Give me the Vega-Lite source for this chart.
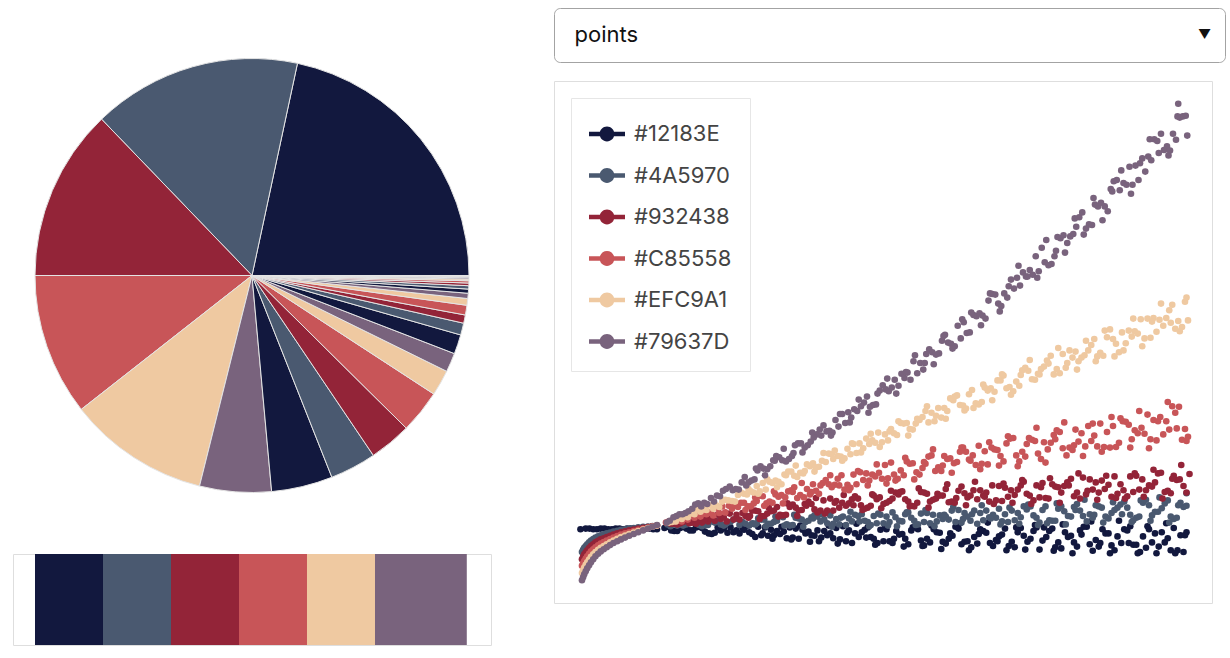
{
  "$schema": "https://vega.github.io/schema/vega-lite/v6.json",
  "background": "white",
  "padding": {"left": 12, "top": 7, "right": 0, "bottom": 0},
  "config": {"view": {"stroke": "#dedede", "strokeWidth": 1}, "font": "Inter"},
  "spacing": 61,
  "resolve": {"scale": {"color": "independent"}, "legend": {"color": "independent"}},
  "hconcat": [
    {
      "spacing": 0,
      "resolve": {"scale": {"color": "independent"}, "legend": {"color": "independent"}},
      "vconcat": [
        {"width": 478, "height": 5, "view": {"stroke": null}, "data": {"values": [{}]}, "mark": {"type": "point", "opacity": 0}, "encoding": {}},
        {
          "width": 478,
          "height": 523,
          "data": {"values": [
            {"i": 1, "value": 77.9, "c": "#12183E"},
            {"i": 2, "value": 56.0, "c": "#4A5970"},
            {"i": 3, "value": 46.1, "c": "#932438"},
            {"i": 4, "value": 38.1, "c": "#C85558"},
            {"i": 5, "value": 37.9, "c": "#EFC9A1"},
            {"i": 6, "value": 19.2, "c": "#79637D"},
            {"i": 7, "value": 16.4, "c": "#12183E"},
            {"i": 8, "value": 12.4, "c": "#4A5970"},
            {"i": 9, "value": 11.3, "c": "#932438"},
            {"i": 10, "value": 11.6, "c": "#C85558"},
            {"i": 11, "value": 6.9, "c": "#EFC9A1"},
            {"i": 12, "value": 5.1, "c": "#79637D"},
            {"i": 13, "value": 5.2, "c": "#12183E"},
            {"i": 14, "value": 3.2, "c": "#4A5970"},
            {"i": 15, "value": 2.2, "c": "#932438"},
            {"i": 16, "value": 2.6, "c": "#C85558"},
            {"i": 17, "value": 1.8, "c": "#EFC9A1"},
            {"i": 18, "value": 1.4, "c": "#79637D"},
            {"i": 19, "value": 1.1, "c": "#12183E"},
            {"i": 20, "value": 0.9, "c": "#4A5970"},
            {"i": 21, "value": 0.7, "c": "#932438"},
            {"i": 22, "value": 0.6, "c": "#C85558"},
            {"i": 23, "value": 0.45, "c": "#EFC9A1"},
            {"i": 24, "value": 0.35, "c": "#79637D"},
            {"i": 25, "value": 0.25, "c": "#12183E"},
            {"i": 26, "value": 0.15, "c": "#4A5970"},
            {"i": 27, "value": 0.1, "c": "#932438"},
            {"i": 28, "value": 0.06, "c": "#C85558"},
            {"i": 29, "value": 0.04, "c": "#EFC9A1"}
          ]},
          "mark": {"type": "arc", "outerRadius": 217, "stroke": "#e4e4e4", "strokeWidth": 1},
          "encoding": {
            "theta": {"field": "value", "type": "quantitative", "stack": true, "scale": {"domain": [0, 360], "nice": false, "range": [1.5708, -4.7124]}},
            "order": {"field": "i", "type": "quantitative"},
            "color": {"field": "c", "type": "nominal", "scale": null}
          }
        },
        {"width": 478, "height": 16, "view": {"stroke": null}, "data": {"values": [{}]}, "mark": {"type": "point", "opacity": 0}, "encoding": {}},
        {
          "width": 478,
          "height": 91,
          "data": {"values": [
            {"c": "#12183E", "a": 0, "b": 1},
            {"c": "#4A5970", "a": 1, "b": 2},
            {"c": "#932438", "a": 2, "b": 3},
            {"c": "#C85558", "a": 3, "b": 4},
            {"c": "#EFC9A1", "a": 4, "b": 5},
            {"c": "#79637D", "a": 5, "b": 6.35}
          ]},
          "mark": {"type": "rect"},
          "encoding": {
            "x": {"field": "a", "type": "quantitative", "scale": {"domain": [-0.3235, 6.706], "nice": false, "zero": false}, "axis": null},
            "x2": {"field": "b"},
            "color": {"field": "c", "type": "nominal", "scale": null}
          }
        }
      ]
    },
    {
      "spacing": 17,
      "resolve": {"scale": {"color": "independent"}, "legend": {"color": "independent"}},
      "vconcat": [
        {
          "width": 671,
          "height": 54,
          "view": {"stroke": "#a3a3a3", "cornerRadius": 6, "fill": "white"},
          "encoding": {
            "x": {"field": "label", "type": "nominal", "scale": {"type": "point", "domain": ["points", "▼"], "padding": 0.0325}, "axis": null}
          },
          "layer": [
            {
              "data": {"values": [{"label": "points"}]},
              "mark": {"type": "text", "align": "left", "baseline": "middle", "fontSize": 22, "font": "Inter", "color": "#111111"},
              "encoding": {"text": {"field": "label"}}
            },
            {
              "data": {"values": [{"label": "▼"}]},
              "mark": {"type": "text", "align": "center", "baseline": "middle", "fontSize": 13, "color": "#111111"},
              "encoding": {"text": {"field": "label"}}
            }
          ]
        },
        {
          "width": 658,
          "height": 522,
          "data": {"values": [
            {"s":"#12183E","x":-0.02,"y":0.93},{"s":"#12183E","x":0.05,"y":0.94},{"s":"#12183E","x":0.1,"y":0.94},{"s":"#12183E","x":0.15,"y":0.93},{"s":"#12183E","x":0.2,"y":0.93},{"s":"#12183E","x":0.25,"y":0.94},{"s":"#12183E","x":0.3,"y":0.94},{"s":"#12183E","x":0.35,"y":0.93},{"s":"#12183E","x":0.4,"y":0.93},{"s":"#12183E","x":0.45,"y":0.94},{"s":"#12183E","x":0.5,"y":0.94},{"s":"#12183E","x":0.55,"y":0.93},{"s":"#12183E","x":0.6,"y":0.94},{"s":"#12183E","x":0.65,"y":0.94},{"s":"#12183E","x":0.7,"y":0.93},{"s":"#12183E","x":0.75,"y":0.93},{"s":"#12183E","x":0.8,"y":0.95},{"s":"#12183E","x":0.85,"y":0.94},{"s":"#12183E","x":0.9,"y":0.94},{"s":"#12183E","x":0.95,"y":0.93},{"s":"#12183E","x":1.0,"y":0.93},
            {"s":"#12183E","x":1.1,"y":0.95},{"s":"#12183E","x":1.23,"y":0.90},{"s":"#12183E","x":1.35,"y":0.97},{"s":"#12183E","x":1.48,"y":0.91},{"s":"#12183E","x":1.6,"y":0.95},{"s":"#12183E","x":1.73,"y":0.85},{"s":"#12183E","x":1.85,"y":0.91},{"s":"#12183E","x":1.98,"y":0.96},
            {"s":"#12183E","x":2.1,"y":0.86},{"s":"#12183E","x":2.23,"y":0.88},{"s":"#12183E","x":2.35,"y":0.97},{"s":"#12183E","x":2.48,"y":0.82},{"s":"#12183E","x":2.6,"y":0.90},{"s":"#12183E","x":2.73,"y":0.78},{"s":"#12183E","x":2.85,"y":0.94},{"s":"#12183E","x":2.98,"y":0.86},
            {"s":"#12183E","x":3.1,"y":0.82},{"s":"#12183E","x":3.23,"y":0.90},{"s":"#12183E","x":3.35,"y":0.78},{"s":"#12183E","x":3.48,"y":0.98},{"s":"#12183E","x":3.6,"y":0.70},{"s":"#12183E","x":3.73,"y":0.88},{"s":"#12183E","x":3.85,"y":0.80},{"s":"#12183E","x":3.98,"y":0.92},
            {"s":"#12183E","x":4.1,"y":0.73},{"s":"#12183E","x":4.23,"y":0.84},{"s":"#12183E","x":4.35,"y":0.68},{"s":"#12183E","x":4.48,"y":0.93},{"s":"#12183E","x":4.6,"y":0.77},{"s":"#12183E","x":4.73,"y":0.88},{"s":"#12183E","x":4.85,"y":0.69},{"s":"#12183E","x":4.98,"y":0.97},
            {"s":"#12183E","x":5.1,"y":0.72},{"s":"#12183E","x":5.23,"y":0.80},{"s":"#12183E","x":5.35,"y":0.90},{"s":"#12183E","x":5.48,"y":0.65},{"s":"#12183E","x":5.6,"y":0.84},{"s":"#12183E","x":5.73,"y":0.72},{"s":"#12183E","x":5.85,"y":0.95},{"s":"#12183E","x":5.98,"y":0.77},
            {"s":"#12183E","x":6.1,"y":0.59},{"s":"#12183E","x":6.23,"y":0.90},{"s":"#12183E","x":6.35,"y":0.71},{"s":"#12183E","x":6.48,"y":0.80},{"s":"#12183E","x":6.6,"y":0.64},{"s":"#12183E","x":6.73,"y":0.97},{"s":"#12183E","x":6.85,"y":0.75},{"s":"#12183E","x":6.98,"y":0.86},
            {"s":"#12183E","x":7.1,"y":0.58},{"s":"#12183E","x":7.23,"y":0.93},{"s":"#12183E","x":7.35,"y":0.67},{"s":"#12183E","x":7.48,"y":0.81},{"s":"#12183E","x":7.6,"y":0.71},{"s":"#12183E","x":7.73,"y":0.88},{"s":"#12183E","x":7.85,"y":0.58},{"s":"#12183E","x":7.98,"y":0.83},
            {"s":"#12183E","x":1.14,"y":0.97},{"s":"#12183E","x":1.27,"y":0.90},{"s":"#12183E","x":1.39,"y":0.94},{"s":"#12183E","x":1.52,"y":0.96},{"s":"#12183E","x":1.64,"y":0.89},{"s":"#12183E","x":1.77,"y":0.87},{"s":"#12183E","x":1.89,"y":0.94},{"s":"#12183E","x":2.02,"y":0.88},
            {"s":"#12183E","x":2.14,"y":0.95},{"s":"#12183E","x":2.27,"y":0.85},{"s":"#12183E","x":2.39,"y":0.83},{"s":"#12183E","x":2.52,"y":0.92},{"s":"#12183E","x":2.64,"y":0.85},{"s":"#12183E","x":2.77,"y":0.96},{"s":"#12183E","x":2.89,"y":0.77},{"s":"#12183E","x":3.02,"y":0.89},
            {"s":"#12183E","x":3.14,"y":0.91},{"s":"#12183E","x":3.27,"y":0.83},{"s":"#12183E","x":3.39,"y":0.95},{"s":"#12183E","x":3.52,"y":0.73},{"s":"#12183E","x":3.64,"y":0.86},{"s":"#12183E","x":3.77,"y":0.92},{"s":"#12183E","x":3.89,"y":0.77},{"s":"#12183E","x":4.02,"y":0.73},
            {"s":"#12183E","x":4.14,"y":0.70},{"s":"#12183E","x":4.27,"y":0.85},{"s":"#12183E","x":4.39,"y":0.91},{"s":"#12183E","x":4.52,"y":0.74},{"s":"#12183E","x":4.64,"y":0.71},{"s":"#12183E","x":4.77,"y":0.87},{"s":"#12183E","x":4.89,"y":0.77},{"s":"#12183E","x":5.02,"y":0.94},
            {"s":"#12183E","x":5.14,"y":0.73},{"s":"#12183E","x":5.27,"y":0.69},{"s":"#12183E","x":5.39,"y":0.87},{"s":"#12183E","x":5.52,"y":0.75},{"s":"#12183E","x":5.64,"y":0.94},{"s":"#12183E","x":5.77,"y":0.63},{"s":"#12183E","x":5.89,"y":0.82},{"s":"#12183E","x":6.02,"y":0.90},
            {"s":"#12183E","x":6.14,"y":0.74},{"s":"#12183E","x":6.27,"y":0.94},{"s":"#12183E","x":6.39,"y":0.61},{"s":"#12183E","x":6.52,"y":0.82},{"s":"#12183E","x":6.64,"y":0.91},{"s":"#12183E","x":6.77,"y":0.68},{"s":"#12183E","x":6.89,"y":0.64},{"s":"#12183E","x":7.02,"y":0.86},
            {"s":"#12183E","x":7.14,"y":0.81},{"s":"#12183E","x":7.27,"y":0.91},{"s":"#12183E","x":7.39,"y":0.67},{"s":"#12183E","x":7.52,"y":0.62},{"s":"#12183E","x":7.64,"y":0.86},{"s":"#12183E","x":7.77,"y":0.71},{"s":"#12183E","x":7.89,"y":0.95},{"s":"#12183E","x":8.02,"y":0.55},
            {"s":"#12183E","x":1.19,"y":0.91},{"s":"#12183E","x":1.31,"y":0.95},{"s":"#12183E","x":1.44,"y":0.91},{"s":"#12183E","x":1.56,"y":0.97},{"s":"#12183E","x":1.69,"y":0.86},{"s":"#12183E","x":1.81,"y":0.96},{"s":"#12183E","x":1.94,"y":0.87},{"s":"#12183E","x":2.06,"y":0.91},
            {"s":"#12183E","x":2.19,"y":0.98},{"s":"#12183E","x":2.31,"y":0.80},{"s":"#12183E","x":2.44,"y":0.96},{"s":"#12183E","x":2.56,"y":0.83},{"s":"#12183E","x":2.69,"y":0.89},{"s":"#12183E","x":2.81,"y":0.79},{"s":"#12183E","x":2.94,"y":0.92},{"s":"#12183E","x":3.06,"y":0.83},
            {"s":"#12183E","x":3.19,"y":0.79},{"s":"#12183E","x":3.31,"y":0.86},{"s":"#12183E","x":3.44,"y":0.76},{"s":"#12183E","x":3.56,"y":0.91},{"s":"#12183E","x":3.69,"y":0.80},{"s":"#12183E","x":3.81,"y":0.96},{"s":"#12183E","x":3.94,"y":0.70},{"s":"#12183E","x":4.06,"y":0.93},
            {"s":"#12183E","x":4.19,"y":0.90},{"s":"#12183E","x":4.31,"y":0.77},{"s":"#12183E","x":4.44,"y":0.96},{"s":"#12183E","x":4.56,"y":0.66},{"s":"#12183E","x":4.69,"y":0.93},{"s":"#12183E","x":4.81,"y":0.72},{"s":"#12183E","x":4.94,"y":0.82},{"s":"#12183E","x":5.06,"y":0.68},
            {"s":"#12183E","x":5.19,"y":0.63},{"s":"#12183E","x":5.31,"y":0.93},{"s":"#12183E","x":5.44,"y":0.70},{"s":"#12183E","x":5.56,"y":0.81},{"s":"#12183E","x":5.69,"y":0.65},{"s":"#12183E","x":5.81,"y":0.88},{"s":"#12183E","x":5.94,"y":0.72},{"s":"#12183E","x":6.06,"y":0.96},
            {"s":"#12183E","x":6.19,"y":0.80},{"s":"#12183E","x":6.31,"y":0.63},{"s":"#12183E","x":6.44,"y":0.88},{"s":"#12183E","x":6.56,"y":0.71},{"s":"#12183E","x":6.69,"y":0.97},{"s":"#12183E","x":6.81,"y":0.57},{"s":"#12183E","x":6.94,"y":0.93},{"s":"#12183E","x":7.06,"y":0.66},
            {"s":"#12183E","x":7.19,"y":0.70},{"s":"#12183E","x":7.31,"y":0.98},{"s":"#12183E","x":7.44,"y":0.55},{"s":"#12183E","x":7.56,"y":0.93},{"s":"#12183E","x":7.69,"y":0.64},{"s":"#12183E","x":7.81,"y":0.78},{"s":"#12183E","x":7.94,"y":0.58},{"s":"#12183E","x":8.06,"y":0.88},
            {"s":"#12183E","x":2.16,"y":0.92},{"s":"#12183E","x":2.29,"y":1.02},{"s":"#12183E","x":2.41,"y":0.86},{"s":"#12183E","x":2.54,"y":0.77},{"s":"#12183E","x":2.66,"y":0.97},{"s":"#12183E","x":2.79,"y":0.76},{"s":"#12183E","x":2.91,"y":0.99},{"s":"#12183E","x":3.04,"y":0.72},
            {"s":"#12183E","x":3.16,"y":0.73},{"s":"#12183E","x":3.29,"y":0.99},{"s":"#12183E","x":3.41,"y":0.69},{"s":"#12183E","x":3.54,"y":0.88},{"s":"#12183E","x":3.66,"y":1.02},{"s":"#12183E","x":3.79,"y":0.79},{"s":"#12183E","x":3.91,"y":0.67},{"s":"#12183E","x":4.04,"y":0.96},
            {"s":"#12183E","x":4.16,"y":0.77},{"s":"#12183E","x":4.29,"y":0.64},{"s":"#12183E","x":4.41,"y":0.96},{"s":"#12183E","x":4.54,"y":0.65},{"s":"#12183E","x":4.66,"y":0.99},{"s":"#12183E","x":4.79,"y":0.60},{"s":"#12183E","x":4.91,"y":0.86},{"s":"#12183E","x":5.04,"y":1.03},
            {"s":"#12183E","x":5.16,"y":0.58},{"s":"#12183E","x":5.29,"y":0.85},{"s":"#12183E","x":5.41,"y":1.04},{"s":"#12183E","x":5.54,"y":0.73},{"s":"#12183E","x":5.66,"y":0.58},{"s":"#12183E","x":5.79,"y":0.96},{"s":"#12183E","x":5.91,"y":0.59},{"s":"#12183E","x":6.04,"y":1.0},
            {"s":"#12183E","x":6.16,"y":0.96},{"s":"#12183E","x":6.29,"y":0.57},{"s":"#12183E","x":6.41,"y":1.01},{"s":"#12183E","x":6.54,"y":0.53},{"s":"#12183E","x":6.66,"y":0.84},{"s":"#12183E","x":6.79,"y":1.06},{"s":"#12183E","x":6.91,"y":0.70},{"s":"#12183E","x":7.04,"y":0.53},
            {"s":"#12183E","x":7.16,"y":1.07},{"s":"#12183E","x":7.29,"y":0.70},{"s":"#12183E","x":7.41,"y":0.53},{"s":"#12183E","x":7.54,"y":0.98},{"s":"#12183E","x":7.66,"y":0.53},{"s":"#12183E","x":7.79,"y":1.03},{"s":"#12183E","x":7.91,"y":0.53},{"s":"#12183E","x":8.04,"y":0.83},

            {"s":"#4A5970","x":0,"y":0.55},{"s":"#4A5970","x":0.015,"y":0.585},{"s":"#4A5970","x":0.03,"y":0.62},{"s":"#4A5970","x":0.05,"y":0.65},{"s":"#4A5970","x":0.07,"y":0.68},{"s":"#4A5970","x":0.095,"y":0.71},{"s":"#4A5970","x":0.12,"y":0.74},{"s":"#4A5970","x":0.15,"y":0.765},{"s":"#4A5970","x":0.18,"y":0.79},{"s":"#4A5970","x":0.215,"y":0.81},{"s":"#4A5970","x":0.25,"y":0.83},{"s":"#4A5970","x":0.29,"y":0.845},{"s":"#4A5970","x":0.33,"y":0.86},{"s":"#4A5970","x":0.375,"y":0.875},{"s":"#4A5970","x":0.42,"y":0.89},{"s":"#4A5970","x":0.47,"y":0.905},{"s":"#4A5970","x":0.52,"y":0.92},{"s":"#4A5970","x":0.575,"y":0.93},{"s":"#4A5970","x":0.63,"y":0.94},{"s":"#4A5970","x":0.69,"y":0.95},{"s":"#4A5970","x":0.75,"y":0.96},{"s":"#4A5970","x":0.815,"y":0.968},{"s":"#4A5970","x":0.88,"y":0.975},{"s":"#4A5970","x":0.94,"y":0.983},{"s":"#4A5970","x":1.0,"y":0.99},
            {"s":"#4A5970","x":1.14,"y":1.01},{"s":"#4A5970","x":1.27,"y":0.99},{"s":"#4A5970","x":1.39,"y":1.01},{"s":"#4A5970","x":1.52,"y":1.05},{"s":"#4A5970","x":1.64,"y":1.00},{"s":"#4A5970","x":1.77,"y":1.04},{"s":"#4A5970","x":1.89,"y":0.99},{"s":"#4A5970","x":2.02,"y":1.09},
            {"s":"#4A5970","x":2.14,"y":1.05},{"s":"#4A5970","x":2.27,"y":1.03},{"s":"#4A5970","x":2.39,"y":1.09},{"s":"#4A5970","x":2.52,"y":1.02},{"s":"#4A5970","x":2.64,"y":1.15},{"s":"#4A5970","x":2.77,"y":0.99},{"s":"#4A5970","x":2.89,"y":1.11},{"s":"#4A5970","x":3.02,"y":1.07},
            {"s":"#4A5970","x":3.14,"y":1.14},{"s":"#4A5970","x":3.27,"y":1.03},{"s":"#4A5970","x":3.39,"y":1.10},{"s":"#4A5970","x":3.52,"y":1.00},{"s":"#4A5970","x":3.64,"y":1.17},{"s":"#4A5970","x":3.77,"y":1.07},{"s":"#4A5970","x":3.89,"y":1.15},{"s":"#4A5970","x":4.02,"y":1.03},
            {"s":"#4A5970","x":4.14,"y":1.21},{"s":"#4A5970","x":4.27,"y":1.06},{"s":"#4A5970","x":4.39,"y":1.12},{"s":"#4A5970","x":4.52,"y":1.19},{"s":"#4A5970","x":4.64,"y":1.03},{"s":"#4A5970","x":4.77,"y":1.16},{"s":"#4A5970","x":4.89,"y":1.09},{"s":"#4A5970","x":5.02,"y":1.25},
            {"s":"#4A5970","x":5.14,"y":1.14},{"s":"#4A5970","x":5.27,"y":1.02},{"s":"#4A5970","x":5.39,"y":1.24},{"s":"#4A5970","x":5.52,"y":1.12},{"s":"#4A5970","x":5.64,"y":1.18},{"s":"#4A5970","x":5.77,"y":1.08},{"s":"#4A5970","x":5.89,"y":1.31},{"s":"#4A5970","x":6.02,"y":1.16},
            {"s":"#4A5970","x":6.14,"y":1.25},{"s":"#4A5970","x":6.27,"y":1.07},{"s":"#4A5970","x":6.39,"y":1.31},{"s":"#4A5970","x":6.52,"y":1.14},{"s":"#4A5970","x":6.64,"y":1.24},{"s":"#4A5970","x":6.77,"y":1.18},{"s":"#4A5970","x":6.89,"y":1.31},{"s":"#4A5970","x":7.02,"y":1.11},
            {"s":"#4A5970","x":7.14,"y":1.29},{"s":"#4A5970","x":7.27,"y":1.29},{"s":"#4A5970","x":7.39,"y":1.12},{"s":"#4A5970","x":7.52,"y":1.42},{"s":"#4A5970","x":7.64,"y":1.22},{"s":"#4A5970","x":7.77,"y":1.36},{"s":"#4A5970","x":7.89,"y":1.10},{"s":"#4A5970","x":8.02,"y":1.30},
            {"s":"#4A5970","x":1.18,"y":0.98},{"s":"#4A5970","x":1.31,"y":1.01},{"s":"#4A5970","x":1.43,"y":1.03},{"s":"#4A5970","x":1.56,"y":1.00},{"s":"#4A5970","x":1.68,"y":1.00},{"s":"#4A5970","x":1.81,"y":1.06},{"s":"#4A5970","x":1.93,"y":1.03},{"s":"#4A5970","x":2.06,"y":1.10},
            {"s":"#4A5970","x":2.18,"y":1.02},{"s":"#4A5970","x":2.31,"y":1.01},{"s":"#4A5970","x":2.43,"y":1.09},{"s":"#4A5970","x":2.56,"y":1.05},{"s":"#4A5970","x":2.68,"y":1.13},{"s":"#4A5970","x":2.81,"y":1.00},{"s":"#4A5970","x":2.93,"y":1.09},{"s":"#4A5970","x":3.06,"y":1.13},
            {"s":"#4A5970","x":3.18,"y":1.06},{"s":"#4A5970","x":3.31,"y":1.16},{"s":"#4A5970","x":3.43,"y":1.01},{"s":"#4A5970","x":3.56,"y":1.11},{"s":"#4A5970","x":3.68,"y":1.15},{"s":"#4A5970","x":3.81,"y":1.05},{"s":"#4A5970","x":3.93,"y":1.03},{"s":"#4A5970","x":4.06,"y":1.14},
            {"s":"#4A5970","x":4.18,"y":1.13},{"s":"#4A5970","x":4.31,"y":1.18},{"s":"#4A5970","x":4.43,"y":1.07},{"s":"#4A5970","x":4.56,"y":1.05},{"s":"#4A5970","x":4.68,"y":1.17},{"s":"#4A5970","x":4.81,"y":1.10},{"s":"#4A5970","x":4.93,"y":1.24},{"s":"#4A5970","x":5.06,"y":1.04},
            {"s":"#4A5970","x":5.18,"y":1.07},{"s":"#4A5970","x":5.31,"y":1.20},{"s":"#4A5970","x":5.43,"y":1.13},{"s":"#4A5970","x":5.56,"y":1.27},{"s":"#4A5970","x":5.68,"y":1.05},{"s":"#4A5970","x":5.81,"y":1.20},{"s":"#4A5970","x":5.93,"y":1.26},{"s":"#4A5970","x":6.06,"y":1.12},
            {"s":"#4A5970","x":6.18,"y":1.31},{"s":"#4A5970","x":6.31,"y":1.07},{"s":"#4A5970","x":6.43,"y":1.23},{"s":"#4A5970","x":6.56,"y":1.30},{"s":"#4A5970","x":6.68,"y":1.15},{"s":"#4A5970","x":6.81,"y":1.12},{"s":"#4A5970","x":6.93,"y":1.29},{"s":"#4A5970","x":7.06,"y":1.20},
            {"s":"#4A5970","x":7.18,"y":1.34},{"s":"#4A5970","x":7.31,"y":1.17},{"s":"#4A5970","x":7.43,"y":1.14},{"s":"#4A5970","x":7.56,"y":1.33},{"s":"#4A5970","x":7.68,"y":1.22},{"s":"#4A5970","x":7.81,"y":1.41},{"s":"#4A5970","x":7.93,"y":1.12},{"s":"#4A5970","x":8.06,"y":1.32},
            {"s":"#4A5970","x":1.23,"y":1.01},{"s":"#4A5970","x":1.35,"y":0.99},{"s":"#4A5970","x":1.48,"y":1.05},{"s":"#4A5970","x":1.6,"y":0.98},{"s":"#4A5970","x":1.73,"y":1.06},{"s":"#4A5970","x":1.85,"y":1.01},{"s":"#4A5970","x":1.98,"y":1.05},{"s":"#4A5970","x":2.1,"y":1.00},
            {"s":"#4A5970","x":2.23,"y":0.99},{"s":"#4A5970","x":2.35,"y":1.11},{"s":"#4A5970","x":2.48,"y":1.02},{"s":"#4A5970","x":2.6,"y":1.07},{"s":"#4A5970","x":2.73,"y":1.01},{"s":"#4A5970","x":2.85,"y":1.12},{"s":"#4A5970","x":2.98,"y":1.05},{"s":"#4A5970","x":3.1,"y":1.16},
            {"s":"#4A5970","x":3.23,"y":1.09},{"s":"#4A5970","x":3.35,"y":1.02},{"s":"#4A5970","x":3.48,"y":1.14},{"s":"#4A5970","x":3.6,"y":1.06},{"s":"#4A5970","x":3.73,"y":1.18},{"s":"#4A5970","x":3.85,"y":1.00},{"s":"#4A5970","x":3.98,"y":1.17},{"s":"#4A5970","x":4.1,"y":1.05},
            {"s":"#4A5970","x":4.23,"y":1.07},{"s":"#4A5970","x":4.35,"y":1.21},{"s":"#4A5970","x":4.48,"y":1.01},{"s":"#4A5970","x":4.6,"y":1.20},{"s":"#4A5970","x":4.73,"y":1.06},{"s":"#4A5970","x":4.85,"y":1.14},{"s":"#4A5970","x":4.98,"y":1.05},{"s":"#4A5970","x":5.1,"y":1.20},
            {"s":"#4A5970","x":5.23,"y":1.24},{"s":"#4A5970","x":5.35,"y":1.08},{"s":"#4A5970","x":5.48,"y":1.17},{"s":"#4A5970","x":5.6,"y":1.06},{"s":"#4A5970","x":5.73,"y":1.24},{"s":"#4A5970","x":5.85,"y":1.13},{"s":"#4A5970","x":5.98,"y":1.31},{"s":"#4A5970","x":6.1,"y":1.04},
            {"s":"#4A5970","x":6.23,"y":1.08},{"s":"#4A5970","x":6.35,"y":1.27},{"s":"#4A5970","x":6.48,"y":1.15},{"s":"#4A5970","x":6.6,"y":1.35},{"s":"#4A5970","x":6.73,"y":1.06},{"s":"#4A5970","x":6.85,"y":1.33},{"s":"#4A5970","x":6.98,"y":1.14},{"s":"#4A5970","x":7.1,"y":1.25},
            {"s":"#4A5970","x":7.23,"y":1.39},{"s":"#4A5970","x":7.35,"y":1.08},{"s":"#4A5970","x":7.48,"y":1.37},{"s":"#4A5970","x":7.6,"y":1.16},{"s":"#4A5970","x":7.73,"y":1.28},{"s":"#4A5970","x":7.85,"y":1.14},{"s":"#4A5970","x":7.98,"y":1.37},
            {"s":"#4A5970","x":2.2,"y":1.15},{"s":"#4A5970","x":2.33,"y":1.03},{"s":"#4A5970","x":2.45,"y":0.98},{"s":"#4A5970","x":2.58,"y":1.14},{"s":"#4A5970","x":2.7,"y":0.99},{"s":"#4A5970","x":2.83,"y":1.17},{"s":"#4A5970","x":2.95,"y":0.97},{"s":"#4A5970","x":3.08,"y":1.11},
            {"s":"#4A5970","x":3.2,"y":1.18},{"s":"#4A5970","x":3.33,"y":0.97},{"s":"#4A5970","x":3.45,"y":1.12},{"s":"#4A5970","x":3.58,"y":1.22},{"s":"#4A5970","x":3.7,"y":1.06},{"s":"#4A5970","x":3.83,"y":0.98},{"s":"#4A5970","x":3.95,"y":1.19},{"s":"#4A5970","x":4.08,"y":0.99},
            {"s":"#4A5970","x":4.2,"y":0.98},{"s":"#4A5970","x":4.33,"y":1.21},{"s":"#4A5970","x":4.45,"y":1.00},{"s":"#4A5970","x":4.58,"y":1.25},{"s":"#4A5970","x":4.7,"y":0.98},{"s":"#4A5970","x":4.83,"y":1.17},{"s":"#4A5970","x":4.95,"y":1.30},{"s":"#4A5970","x":5.08,"y":1.10},
            {"s":"#4A5970","x":5.2,"y":1.18},{"s":"#4A5970","x":5.33,"y":1.33},{"s":"#4A5970","x":5.45,"y":1.11},{"s":"#4A5970","x":5.58,"y":1.01},{"s":"#4A5970","x":5.7,"y":1.29},{"s":"#4A5970","x":5.83,"y":1.02},{"s":"#4A5970","x":5.95,"y":1.34},{"s":"#4A5970","x":6.08,"y":1.00},
            {"s":"#4A5970","x":6.2,"y":1.03},{"s":"#4A5970","x":6.33,"y":1.36},{"s":"#4A5970","x":6.45,"y":1.01},{"s":"#4A5970","x":6.58,"y":1.25},{"s":"#4A5970","x":6.7,"y":1.42},{"s":"#4A5970","x":6.83,"y":1.17},{"s":"#4A5970","x":6.95,"y":1.04},{"s":"#4A5970","x":7.08,"y":1.38},
            {"s":"#4A5970","x":7.2,"y":1.18},{"s":"#4A5970","x":7.33,"y":1.05},{"s":"#4A5970","x":7.45,"y":1.41},{"s":"#4A5970","x":7.58,"y":1.07},{"s":"#4A5970","x":7.7,"y":1.46},{"s":"#4A5970","x":7.83,"y":1.04},{"s":"#4A5970","x":7.95,"y":1.33},{"s":"#4A5970","x":8.06,"y":1.53},

            {"s":"#932438","x":0,"y":0.43},{"s":"#932438","x":0.015,"y":0.47},{"s":"#932438","x":0.03,"y":0.51},{"s":"#932438","x":0.05,"y":0.545},{"s":"#932438","x":0.07,"y":0.58},{"s":"#932438","x":0.095,"y":0.615},{"s":"#932438","x":0.12,"y":0.65},{"s":"#932438","x":0.15,"y":0.68},{"s":"#932438","x":0.18,"y":0.71},{"s":"#932438","x":0.215,"y":0.735},{"s":"#932438","x":0.25,"y":0.76},{"s":"#932438","x":0.29,"y":0.78},{"s":"#932438","x":0.33,"y":0.80},{"s":"#932438","x":0.375,"y":0.82},{"s":"#932438","x":0.42,"y":0.84},{"s":"#932438","x":0.47,"y":0.86},{"s":"#932438","x":0.52,"y":0.88},{"s":"#932438","x":0.575,"y":0.895},{"s":"#932438","x":0.63,"y":0.91},{"s":"#932438","x":0.69,"y":0.925},{"s":"#932438","x":0.75,"y":0.94},{"s":"#932438","x":0.815,"y":0.953},{"s":"#932438","x":0.88,"y":0.965},{"s":"#932438","x":0.94,"y":0.978},{"s":"#932438","x":1.0,"y":0.99},
            {"s":"#932438","x":1.18,"y":1.02},{"s":"#932438","x":1.31,"y":1.03},{"s":"#932438","x":1.43,"y":1.03},{"s":"#932438","x":1.56,"y":1.09},{"s":"#932438","x":1.68,"y":1.06},{"s":"#932438","x":1.81,"y":1.17},{"s":"#932438","x":1.93,"y":1.06},{"s":"#932438","x":2.06,"y":1.17},
            {"s":"#932438","x":2.18,"y":1.15},{"s":"#932438","x":2.31,"y":1.24},{"s":"#932438","x":2.43,"y":1.15},{"s":"#932438","x":2.56,"y":1.24},{"s":"#932438","x":2.68,"y":1.16},{"s":"#932438","x":2.81,"y":1.34},{"s":"#932438","x":2.93,"y":1.25},{"s":"#932438","x":3.06,"y":1.35},
            {"s":"#932438","x":3.18,"y":1.24},{"s":"#932438","x":3.31,"y":1.44},{"s":"#932438","x":3.43,"y":1.29},{"s":"#932438","x":3.56,"y":1.36},{"s":"#932438","x":3.68,"y":1.44},{"s":"#932438","x":3.81,"y":1.29},{"s":"#932438","x":3.93,"y":1.43},{"s":"#932438","x":4.06,"y":1.37},
            {"s":"#932438","x":4.18,"y":1.54},{"s":"#932438","x":4.31,"y":1.43},{"s":"#932438","x":4.43,"y":1.31},{"s":"#932438","x":4.56,"y":1.54},{"s":"#932438","x":4.68,"y":1.42},{"s":"#932438","x":4.81,"y":1.49},{"s":"#932438","x":4.93,"y":1.39},{"s":"#932438","x":5.06,"y":1.64},
            {"s":"#932438","x":5.18,"y":1.49},{"s":"#932438","x":5.31,"y":1.58},{"s":"#932438","x":5.43,"y":1.39},{"s":"#932438","x":5.56,"y":1.65},{"s":"#932438","x":5.68,"y":1.47},{"s":"#932438","x":5.81,"y":1.59},{"s":"#932438","x":5.93,"y":1.52},{"s":"#932438","x":6.06,"y":1.66},
            {"s":"#932438","x":6.18,"y":1.45},{"s":"#932438","x":6.31,"y":1.64},{"s":"#932438","x":6.43,"y":1.65},{"s":"#932438","x":6.56,"y":1.48},{"s":"#932438","x":6.68,"y":1.79},{"s":"#932438","x":6.81,"y":1.59},{"s":"#932438","x":6.93,"y":1.74},{"s":"#932438","x":7.06,"y":1.47},
            {"s":"#932438","x":7.18,"y":1.68},{"s":"#932438","x":7.31,"y":1.81},{"s":"#932438","x":7.43,"y":1.59},{"s":"#932438","x":7.56,"y":1.66},{"s":"#932438","x":7.68,"y":1.86},{"s":"#932438","x":7.81,"y":1.57},{"s":"#932438","x":7.93,"y":1.75},{"s":"#932438","x":8.06,"y":1.54},
            {"s":"#932438","x":1.22,"y":1.02},{"s":"#932438","x":1.35,"y":1.05},{"s":"#932438","x":1.47,"y":1.04},{"s":"#932438","x":1.6,"y":1.04},{"s":"#932438","x":1.72,"y":1.11},{"s":"#932438","x":1.85,"y":1.10},{"s":"#932438","x":1.97,"y":1.19},{"s":"#932438","x":2.1,"y":1.09},
            {"s":"#932438","x":2.22,"y":1.12},{"s":"#932438","x":2.35,"y":1.23},{"s":"#932438","x":2.47,"y":1.19},{"s":"#932438","x":2.6,"y":1.30},{"s":"#932438","x":2.72,"y":1.17},{"s":"#932438","x":2.85,"y":1.29},{"s":"#932438","x":2.97,"y":1.35},{"s":"#932438","x":3.1,"y":1.26},
            {"s":"#932438","x":3.22,"y":1.41},{"s":"#932438","x":3.35,"y":1.24},{"s":"#932438","x":3.47,"y":1.37},{"s":"#932438","x":3.6,"y":1.43},{"s":"#932438","x":3.72,"y":1.33},{"s":"#932438","x":3.85,"y":1.32},{"s":"#932438","x":3.97,"y":1.46},{"s":"#932438","x":4.1,"y":1.40},
            {"s":"#932438","x":4.22,"y":1.51},{"s":"#932438","x":4.35,"y":1.39},{"s":"#932438","x":4.47,"y":1.37},{"s":"#932438","x":4.6,"y":1.52},{"s":"#932438","x":4.72,"y":1.44},{"s":"#932438","x":4.85,"y":1.60},{"s":"#932438","x":4.97,"y":1.37},{"s":"#932438","x":5.1,"y":1.53},
            {"s":"#932438","x":5.22,"y":1.58},{"s":"#932438","x":5.35,"y":1.49},{"s":"#932438","x":5.47,"y":1.66},{"s":"#932438","x":5.6,"y":1.40},{"s":"#932438","x":5.72,"y":1.58},{"s":"#932438","x":5.85,"y":1.66},{"s":"#932438","x":5.97,"y":1.49},{"s":"#932438","x":6.1,"y":1.46},
            {"s":"#932438","x":6.22,"y":1.44},{"s":"#932438","x":6.35,"y":1.63},{"s":"#932438","x":6.47,"y":1.71},{"s":"#932438","x":6.6,"y":1.54},{"s":"#932438","x":6.72,"y":1.51},{"s":"#932438","x":6.85,"y":1.71},{"s":"#932438","x":6.97,"y":1.60},{"s":"#932438","x":7.1,"y":1.81},
            {"s":"#932438","x":7.22,"y":1.58},{"s":"#932438","x":7.35,"y":1.55},{"s":"#932438","x":7.47,"y":1.76},{"s":"#932438","x":7.6,"y":1.64},{"s":"#932438","x":7.72,"y":1.87},{"s":"#932438","x":7.85,"y":1.53},{"s":"#932438","x":7.97,"y":1.76},{"s":"#932438","x":8.1,"y":1.85},
            {"s":"#932438","x":1.27,"y":1.01},{"s":"#932438","x":1.39,"y":1.07},{"s":"#932438","x":1.52,"y":1.02},{"s":"#932438","x":1.64,"y":1.11},{"s":"#932438","x":1.77,"y":1.07},{"s":"#932438","x":1.89,"y":1.13},{"s":"#932438","x":2.02,"y":1.09},{"s":"#932438","x":2.14,"y":1.20},
            {"s":"#932438","x":2.27,"y":1.24},{"s":"#932438","x":2.39,"y":1.15},{"s":"#932438","x":2.52,"y":1.23},{"s":"#932438","x":2.64,"y":1.17},{"s":"#932438","x":2.77,"y":1.30},{"s":"#932438","x":2.89,"y":1.24},{"s":"#932438","x":3.02,"y":1.39},{"s":"#932438","x":3.14,"y":1.21},
            {"s":"#932438","x":3.27,"y":1.24},{"s":"#932438","x":3.39,"y":1.40},{"s":"#932438","x":3.52,"y":1.32},{"s":"#932438","x":3.64,"y":1.48},{"s":"#932438","x":3.77,"y":1.27},{"s":"#932438","x":3.89,"y":1.49},{"s":"#932438","x":4.02,"y":1.35},{"s":"#932438","x":4.14,"y":1.44},
            {"s":"#932438","x":4.27,"y":1.56},{"s":"#932438","x":4.39,"y":1.32},{"s":"#932438","x":4.52,"y":1.55},{"s":"#932438","x":4.64,"y":1.39},{"s":"#932438","x":4.77,"y":1.49},{"s":"#932438","x":4.89,"y":1.38},{"s":"#932438","x":5.02,"y":1.57},{"s":"#932438","x":5.14,"y":1.46},
            {"s":"#932438","x":5.27,"y":1.43},{"s":"#932438","x":5.39,"y":1.54},{"s":"#932438","x":5.52,"y":1.41},{"s":"#932438","x":5.64,"y":1.62},{"s":"#932438","x":5.77,"y":1.50},{"s":"#932438","x":5.89,"y":1.72},{"s":"#932438","x":6.02,"y":1.41},{"s":"#932438","x":6.14,"y":1.70},
            {"s":"#932438","x":6.27,"y":1.68},{"s":"#932438","x":6.39,"y":1.54},{"s":"#932438","x":6.52,"y":1.77},{"s":"#932438","x":6.64,"y":1.44},{"s":"#932438","x":6.77,"y":1.76},{"s":"#932438","x":6.89,"y":1.54},{"s":"#932438","x":7.02,"y":1.67},{"s":"#932438","x":7.14,"y":1.52},
            {"s":"#932438","x":7.27,"y":1.48},{"s":"#932438","x":7.39,"y":1.82},{"s":"#932438","x":7.52,"y":1.58},{"s":"#932438","x":7.64,"y":1.71},{"s":"#932438","x":7.77,"y":1.55},{"s":"#932438","x":7.89,"y":1.82},{"s":"#932438","x":8.02,"y":1.65},
            {"s":"#932438","x":2.24,"y":1.15},{"s":"#932438","x":2.37,"y":1.10},{"s":"#932438","x":2.49,"y":1.29},{"s":"#932438","x":2.62,"y":1.14},{"s":"#932438","x":2.74,"y":1.36},{"s":"#932438","x":2.87,"y":1.15},{"s":"#932438","x":2.99,"y":1.32},{"s":"#932438","x":3.12,"y":1.45},
            {"s":"#932438","x":3.24,"y":1.19},{"s":"#932438","x":3.37,"y":1.37},{"s":"#932438","x":3.49,"y":1.50},{"s":"#932438","x":3.62,"y":1.33},{"s":"#932438","x":3.74,"y":1.25},{"s":"#932438","x":3.87,"y":1.51},{"s":"#932438","x":3.99,"y":1.28},{"s":"#932438","x":4.12,"y":1.57},
            {"s":"#932438","x":4.24,"y":1.55},{"s":"#932438","x":4.37,"y":1.31},{"s":"#932438","x":4.49,"y":1.61},{"s":"#932438","x":4.62,"y":1.29},{"s":"#932438","x":4.74,"y":1.52},{"s":"#932438","x":4.87,"y":1.68},{"s":"#932438","x":4.99,"y":1.45},{"s":"#932438","x":5.12,"y":1.33},
            {"s":"#932438","x":5.24,"y":1.72},{"s":"#932438","x":5.37,"y":1.47},{"s":"#932438","x":5.49,"y":1.35},{"s":"#932438","x":5.62,"y":1.69},{"s":"#932438","x":5.74,"y":1.37},{"s":"#932438","x":5.87,"y":1.75},{"s":"#932438","x":5.99,"y":1.35},{"s":"#932438","x":6.12,"y":1.63},
            {"s":"#932438","x":6.24,"y":1.78},{"s":"#932438","x":6.37,"y":1.37},{"s":"#932438","x":6.49,"y":1.66},{"s":"#932438","x":6.62,"y":1.86},{"s":"#932438","x":6.74,"y":1.57},{"s":"#932438","x":6.87,"y":1.42},{"s":"#932438","x":6.99,"y":1.82},{"s":"#932438","x":7.12,"y":1.45},
            {"s":"#932438","x":7.24,"y":1.44},{"s":"#932438","x":7.37,"y":1.86},{"s":"#932438","x":7.49,"y":1.47},{"s":"#932438","x":7.62,"y":1.92},{"s":"#932438","x":7.74,"y":1.44},{"s":"#932438","x":7.87,"y":1.77},{"s":"#932438","x":7.99,"y":2.00},

            {"s":"#C85558","x":0,"y":0.32},{"s":"#C85558","x":0.015,"y":0.36},{"s":"#C85558","x":0.03,"y":0.40},{"s":"#C85558","x":0.05,"y":0.44},{"s":"#C85558","x":0.07,"y":0.48},{"s":"#C85558","x":0.095,"y":0.52},{"s":"#C85558","x":0.12,"y":0.56},{"s":"#C85558","x":0.15,"y":0.595},{"s":"#C85558","x":0.18,"y":0.63},{"s":"#C85558","x":0.215,"y":0.66},{"s":"#C85558","x":0.25,"y":0.69},{"s":"#C85558","x":0.29,"y":0.715},{"s":"#C85558","x":0.33,"y":0.74},{"s":"#C85558","x":0.375,"y":0.765},{"s":"#C85558","x":0.42,"y":0.79},{"s":"#C85558","x":0.47,"y":0.815},{"s":"#C85558","x":0.52,"y":0.84},{"s":"#C85558","x":0.575,"y":0.86},{"s":"#C85558","x":0.63,"y":0.88},{"s":"#C85558","x":0.69,"y":0.90},{"s":"#C85558","x":0.75,"y":0.92},{"s":"#C85558","x":0.815,"y":0.938},{"s":"#C85558","x":0.88,"y":0.955},{"s":"#C85558","x":0.94,"y":0.973},{"s":"#C85558","x":1.0,"y":0.99},
            {"s":"#C85558","x":1.12,"y":1.04},{"s":"#C85558","x":1.25,"y":1.06},{"s":"#C85558","x":1.37,"y":1.13},{"s":"#C85558","x":1.5,"y":1.12},{"s":"#C85558","x":1.62,"y":1.19},{"s":"#C85558","x":1.75,"y":1.16},{"s":"#C85558","x":1.87,"y":1.31},{"s":"#C85558","x":2.0,"y":1.27},
            {"s":"#C85558","x":2.12,"y":1.37},{"s":"#C85558","x":2.25,"y":1.31},{"s":"#C85558","x":2.37,"y":1.49},{"s":"#C85558","x":2.5,"y":1.39},{"s":"#C85558","x":2.62,"y":1.47},{"s":"#C85558","x":2.75,"y":1.56},{"s":"#C85558","x":2.87,"y":1.45},{"s":"#C85558","x":3.0,"y":1.60},
            {"s":"#C85558","x":3.12,"y":1.57},{"s":"#C85558","x":3.25,"y":1.75},{"s":"#C85558","x":3.37,"y":1.67},{"s":"#C85558","x":3.5,"y":1.59},{"s":"#C85558","x":3.62,"y":1.84},{"s":"#C85558","x":3.75,"y":1.75},{"s":"#C85558","x":3.87,"y":1.84},{"s":"#C85558","x":4.0,"y":1.77},
            {"s":"#C85558","x":4.12,"y":2.04},{"s":"#C85558","x":4.25,"y":1.91},{"s":"#C85558","x":4.37,"y":2.02},{"s":"#C85558","x":4.5,"y":1.84},{"s":"#C85558","x":4.62,"y":2.14},{"s":"#C85558","x":4.75,"y":1.96},{"s":"#C85558","x":4.87,"y":2.10},{"s":"#C85558","x":5.0,"y":2.05},
            {"s":"#C85558","x":5.12,"y":2.22},{"s":"#C85558","x":5.25,"y":2.00},{"s":"#C85558","x":5.37,"y":2.23},{"s":"#C85558","x":5.5,"y":2.26},{"s":"#C85558","x":5.62,"y":2.06},{"s":"#C85558","x":5.75,"y":2.45},{"s":"#C85558","x":5.87,"y":2.22},{"s":"#C85558","x":6.0,"y":2.42},
            {"s":"#C85558","x":6.12,"y":2.10},{"s":"#C85558","x":6.25,"y":2.37},{"s":"#C85558","x":6.37,"y":2.55},{"s":"#C85558","x":6.5,"y":2.29},{"s":"#C85558","x":6.62,"y":2.39},{"s":"#C85558","x":6.75,"y":2.65},{"s":"#C85558","x":6.87,"y":2.31},{"s":"#C85558","x":7.0,"y":2.55},
            {"s":"#C85558","x":7.12,"y":2.30},{"s":"#C85558","x":7.25,"y":2.72},{"s":"#C85558","x":7.37,"y":2.58},{"s":"#C85558","x":7.5,"y":2.52},{"s":"#C85558","x":7.62,"y":2.75},{"s":"#C85558","x":7.75,"y":2.51},{"s":"#C85558","x":7.87,"y":2.98},{"s":"#C85558","x":8.0,"y":2.42},
            {"s":"#C85558","x":1.16,"y":1.06},{"s":"#C85558","x":1.29,"y":1.07},{"s":"#C85558","x":1.41,"y":1.09},{"s":"#C85558","x":1.54,"y":1.17},{"s":"#C85558","x":1.66,"y":1.18},{"s":"#C85558","x":1.79,"y":1.28},{"s":"#C85558","x":1.91,"y":1.21},{"s":"#C85558","x":2.04,"y":1.32},
            {"s":"#C85558","x":2.16,"y":1.37},{"s":"#C85558","x":2.29,"y":1.36},{"s":"#C85558","x":2.41,"y":1.48},{"s":"#C85558","x":2.54,"y":1.37},{"s":"#C85558","x":2.66,"y":1.50},{"s":"#C85558","x":2.79,"y":1.58},{"s":"#C85558","x":2.91,"y":1.50},{"s":"#C85558","x":3.04,"y":1.51},
            {"s":"#C85558","x":3.16,"y":1.52},{"s":"#C85558","x":3.29,"y":1.68},{"s":"#C85558","x":3.41,"y":1.77},{"s":"#C85558","x":3.54,"y":1.67},{"s":"#C85558","x":3.66,"y":1.68},{"s":"#C85558","x":3.79,"y":1.86},{"s":"#C85558","x":3.91,"y":1.81},{"s":"#C85558","x":4.04,"y":2.00},
            {"s":"#C85558","x":4.16,"y":1.84},{"s":"#C85558","x":4.29,"y":1.83},{"s":"#C85558","x":4.41,"y":2.03},{"s":"#C85558","x":4.54,"y":1.95},{"s":"#C85558","x":4.66,"y":2.16},{"s":"#C85558","x":4.79,"y":1.90},{"s":"#C85558","x":4.91,"y":2.11},{"s":"#C85558","x":5.04,"y":2.22},
            {"s":"#C85558","x":5.16,"y":2.09},{"s":"#C85558","x":5.29,"y":2.32},{"s":"#C85558","x":5.41,"y":2.01},{"s":"#C85558","x":5.54,"y":2.25},{"s":"#C85558","x":5.66,"y":2.36},{"s":"#C85558","x":5.79,"y":2.16},{"s":"#C85558","x":5.91,"y":2.14},{"s":"#C85558","x":6.04,"y":2.40},
            {"s":"#C85558","x":6.16,"y":2.38},{"s":"#C85558","x":6.29,"y":2.50},{"s":"#C85558","x":6.41,"y":2.28},{"s":"#C85558","x":6.54,"y":2.25},{"s":"#C85558","x":6.66,"y":2.53},{"s":"#C85558","x":6.79,"y":2.40},{"s":"#C85558","x":6.91,"y":2.69},{"s":"#C85558","x":7.04,"y":2.29},
            {"s":"#C85558","x":7.16,"y":2.37},{"s":"#C85558","x":7.29,"y":2.67},{"s":"#C85558","x":7.41,"y":2.53},{"s":"#C85558","x":7.54,"y":2.84},{"s":"#C85558","x":7.66,"y":2.41},{"s":"#C85558","x":7.79,"y":2.73},{"s":"#C85558","x":7.91,"y":2.87},{"s":"#C85558","x":8.04,"y":2.60},
            {"s":"#C85558","x":1.21,"y":1.08},{"s":"#C85558","x":1.33,"y":1.06},{"s":"#C85558","x":1.46,"y":1.16},{"s":"#C85558","x":1.58,"y":1.14},{"s":"#C85558","x":1.71,"y":1.21},{"s":"#C85558","x":1.83,"y":1.20},{"s":"#C85558","x":1.96,"y":1.32},{"s":"#C85558","x":2.08,"y":1.30},
            {"s":"#C85558","x":2.21,"y":1.31},{"s":"#C85558","x":2.33,"y":1.40},{"s":"#C85558","x":2.46,"y":1.36},{"s":"#C85558","x":2.58,"y":1.51},{"s":"#C85558","x":2.71,"y":1.46},{"s":"#C85558","x":2.83,"y":1.63},{"s":"#C85558","x":2.96,"y":1.46},{"s":"#C85558","x":3.08,"y":1.68},
            {"s":"#C85558","x":3.21,"y":1.70},{"s":"#C85558","x":3.33,"y":1.63},{"s":"#C85558","x":3.46,"y":1.83},{"s":"#C85558","x":3.58,"y":1.62},{"s":"#C85558","x":3.71,"y":1.88},{"s":"#C85558","x":3.83,"y":1.74},{"s":"#C85558","x":3.96,"y":1.87},{"s":"#C85558","x":4.08,"y":1.78},
            {"s":"#C85558","x":4.21,"y":1.77},{"s":"#C85558","x":4.33,"y":2.06},{"s":"#C85558","x":4.46,"y":1.88},{"s":"#C85558","x":4.58,"y":2.02},{"s":"#C85558","x":4.71,"y":1.90},{"s":"#C85558","x":4.83,"y":2.15},{"s":"#C85558","x":4.96,"y":2.03},{"s":"#C85558","x":5.08,"y":2.29},
            {"s":"#C85558","x":5.21,"y":2.16},{"s":"#C85558","x":5.33,"y":2.02},{"s":"#C85558","x":5.46,"y":2.29},{"s":"#C85558","x":5.58,"y":2.15},{"s":"#C85558","x":5.71,"y":2.44},{"s":"#C85558","x":5.83,"y":2.06},{"s":"#C85558","x":5.96,"y":2.45},{"s":"#C85558","x":6.08,"y":2.19},
            {"s":"#C85558","x":6.21,"y":2.26},{"s":"#C85558","x":6.33,"y":2.58},{"s":"#C85558","x":6.46,"y":2.16},{"s":"#C85558","x":6.58,"y":2.59},{"s":"#C85558","x":6.71,"y":2.31},{"s":"#C85558","x":6.83,"y":2.49},{"s":"#C85558","x":6.96,"y":2.30},{"s":"#C85558","x":7.08,"y":2.65},
            {"s":"#C85558","x":7.21,"y":2.73},{"s":"#C85558","x":7.33,"y":2.43},{"s":"#C85558","x":7.46,"y":2.62},{"s":"#C85558","x":7.58,"y":2.43},{"s":"#C85558","x":7.71,"y":2.80},{"s":"#C85558","x":7.83,"y":2.59},{"s":"#C85558","x":7.96,"y":2.97},{"s":"#C85558","x":8.08,"y":2.47},
            {"s":"#C85558","x":2.18,"y":1.25},{"s":"#C85558","x":2.31,"y":1.46},{"s":"#C85558","x":2.43,"y":1.32},{"s":"#C85558","x":2.56,"y":1.56},{"s":"#C85558","x":2.68,"y":1.36},{"s":"#C85558","x":2.81,"y":1.55},{"s":"#C85558","x":2.93,"y":1.70},{"s":"#C85558","x":3.06,"y":1.55},
            {"s":"#C85558","x":3.18,"y":1.66},{"s":"#C85558","x":3.31,"y":1.83},{"s":"#C85558","x":3.43,"y":1.66},{"s":"#C85558","x":3.56,"y":1.58},{"s":"#C85558","x":3.68,"y":1.90},{"s":"#C85558","x":3.81,"y":1.66},{"s":"#C85558","x":3.93,"y":2.01},{"s":"#C85558","x":4.06,"y":1.69},
            {"s":"#C85558","x":4.18,"y":1.74},{"s":"#C85558","x":4.31,"y":2.12},{"s":"#C85558","x":4.43,"y":1.76},{"s":"#C85558","x":4.56,"y":2.05},{"s":"#C85558","x":4.68,"y":2.26},{"s":"#C85558","x":4.81,"y":1.99},{"s":"#C85558","x":4.93,"y":1.87},{"s":"#C85558","x":5.06,"y":2.29},
            {"s":"#C85558","x":5.18,"y":2.07},{"s":"#C85558","x":5.31,"y":1.93},{"s":"#C85558","x":5.43,"y":2.38},{"s":"#C85558","x":5.56,"y":1.99},{"s":"#C85558","x":5.68,"y":2.48},{"s":"#C85558","x":5.81,"y":1.98},{"s":"#C85558","x":5.93,"y":2.35},{"s":"#C85558","x":6.06,"y":2.62},
            {"s":"#C85558","x":6.18,"y":2.04},{"s":"#C85558","x":6.31,"y":2.43},{"s":"#C85558","x":6.43,"y":2.71},{"s":"#C85558","x":6.56,"y":2.33},{"s":"#C85558","x":6.68,"y":2.15},{"s":"#C85558","x":6.81,"y":2.69},{"s":"#C85558","x":6.93,"y":2.22},{"s":"#C85558","x":7.06,"y":2.80},
            {"s":"#C85558","x":7.18,"y":2.78},{"s":"#C85558","x":7.31,"y":2.29},{"s":"#C85558","x":7.43,"y":2.90},{"s":"#C85558","x":7.56,"y":2.28},{"s":"#C85558","x":7.68,"y":2.73},{"s":"#C85558","x":7.81,"y":3.05},{"s":"#C85558","x":7.93,"y":2.61},{"s":"#C85558","x":8.06,"y":2.40},

            {"s":"#EFC9A1","x":0,"y":0.20},{"s":"#EFC9A1","x":0.015,"y":0.245},{"s":"#EFC9A1","x":0.03,"y":0.29},{"s":"#EFC9A1","x":0.05,"y":0.335},{"s":"#EFC9A1","x":0.07,"y":0.38},{"s":"#EFC9A1","x":0.095,"y":0.425},{"s":"#EFC9A1","x":0.12,"y":0.47},{"s":"#EFC9A1","x":0.15,"y":0.51},{"s":"#EFC9A1","x":0.18,"y":0.55},{"s":"#EFC9A1","x":0.215,"y":0.585},{"s":"#EFC9A1","x":0.25,"y":0.62},{"s":"#EFC9A1","x":0.29,"y":0.65},{"s":"#EFC9A1","x":0.33,"y":0.68},{"s":"#EFC9A1","x":0.375,"y":0.71},{"s":"#EFC9A1","x":0.42,"y":0.74},{"s":"#EFC9A1","x":0.47,"y":0.77},{"s":"#EFC9A1","x":0.52,"y":0.80},{"s":"#EFC9A1","x":0.575,"y":0.825},{"s":"#EFC9A1","x":0.63,"y":0.85},{"s":"#EFC9A1","x":0.69,"y":0.875},{"s":"#EFC9A1","x":0.75,"y":0.90},{"s":"#EFC9A1","x":0.815,"y":0.925},{"s":"#EFC9A1","x":0.88,"y":0.95},{"s":"#EFC9A1","x":0.94,"y":0.97},{"s":"#EFC9A1","x":1.0,"y":0.99},
            {"s":"#EFC9A1","x":1.16,"y":1.04},{"s":"#EFC9A1","x":1.29,"y":1.12},{"s":"#EFC9A1","x":1.41,"y":1.13},{"s":"#EFC9A1","x":1.54,"y":1.26},{"s":"#EFC9A1","x":1.66,"y":1.25},{"s":"#EFC9A1","x":1.79,"y":1.33},{"s":"#EFC9A1","x":1.91,"y":1.42},{"s":"#EFC9A1","x":2.04,"y":1.39},
            {"s":"#EFC9A1","x":2.16,"y":1.52},{"s":"#EFC9A1","x":2.29,"y":1.54},{"s":"#EFC9A1","x":2.41,"y":1.70},{"s":"#EFC9A1","x":2.54,"y":1.70},{"s":"#EFC9A1","x":2.66,"y":1.68},{"s":"#EFC9A1","x":2.79,"y":1.89},{"s":"#EFC9A1","x":2.91,"y":1.87},{"s":"#EFC9A1","x":3.04,"y":1.98},
            {"s":"#EFC9A1","x":3.16,"y":1.97},{"s":"#EFC9A1","x":3.29,"y":2.19},{"s":"#EFC9A1","x":3.41,"y":2.15},{"s":"#EFC9A1","x":3.54,"y":2.27},{"s":"#EFC9A1","x":3.66,"y":2.20},{"s":"#EFC9A1","x":3.79,"y":2.44},{"s":"#EFC9A1","x":3.91,"y":2.37},{"s":"#EFC9A1","x":4.04,"y":2.51},
            {"s":"#EFC9A1","x":4.16,"y":2.53},{"s":"#EFC9A1","x":4.29,"y":2.69},{"s":"#EFC9A1","x":4.41,"y":2.59},{"s":"#EFC9A1","x":4.54,"y":2.80},{"s":"#EFC9A1","x":4.66,"y":2.87},{"s":"#EFC9A1","x":4.79,"y":2.79},{"s":"#EFC9A1","x":4.91,"y":3.11},{"s":"#EFC9A1","x":5.04,"y":3.00},
            {"s":"#EFC9A1","x":5.16,"y":3.18},{"s":"#EFC9A1","x":5.29,"y":3.01},{"s":"#EFC9A1","x":5.41,"y":3.24},{"s":"#EFC9A1","x":5.54,"y":3.41},{"s":"#EFC9A1","x":5.66,"y":3.28},{"s":"#EFC9A1","x":5.79,"y":3.39},{"s":"#EFC9A1","x":5.91,"y":3.62},{"s":"#EFC9A1","x":6.04,"y":3.42},
            {"s":"#EFC9A1","x":6.16,"y":3.64},{"s":"#EFC9A1","x":6.29,"y":3.51},{"s":"#EFC9A1","x":6.41,"y":3.85},{"s":"#EFC9A1","x":6.54,"y":3.79},{"s":"#EFC9A1","x":6.66,"y":3.79},{"s":"#EFC9A1","x":6.79,"y":4.00},{"s":"#EFC9A1","x":6.91,"y":3.87},{"s":"#EFC9A1","x":7.04,"y":4.26},
            {"s":"#EFC9A1","x":7.16,"y":3.88},{"s":"#EFC9A1","x":7.29,"y":4.24},{"s":"#EFC9A1","x":7.41,"y":4.19},{"s":"#EFC9A1","x":7.54,"y":4.44},{"s":"#EFC9A1","x":7.66,"y":4.22},{"s":"#EFC9A1","x":7.79,"y":4.45},{"s":"#EFC9A1","x":7.91,"y":4.27},{"s":"#EFC9A1","x":8.04,"y":4.72},
            {"s":"#EFC9A1","x":1.2,"y":1.05},{"s":"#EFC9A1","x":1.33,"y":1.10},{"s":"#EFC9A1","x":1.45,"y":1.19},{"s":"#EFC9A1","x":1.58,"y":1.22},{"s":"#EFC9A1","x":1.7,"y":1.33},{"s":"#EFC9A1","x":1.83,"y":1.30},{"s":"#EFC9A1","x":1.95,"y":1.41},{"s":"#EFC9A1","x":2.08,"y":1.50},
            {"s":"#EFC9A1","x":2.2,"y":1.51},{"s":"#EFC9A1","x":2.33,"y":1.65},{"s":"#EFC9A1","x":2.45,"y":1.59},{"s":"#EFC9A1","x":2.58,"y":1.74},{"s":"#EFC9A1","x":2.7,"y":1.84},{"s":"#EFC9A1","x":2.83,"y":1.82},{"s":"#EFC9A1","x":2.95,"y":1.86},{"s":"#EFC9A1","x":3.08,"y":2.03},
            {"s":"#EFC9A1","x":3.2,"y":2.07},{"s":"#EFC9A1","x":3.33,"y":2.18},{"s":"#EFC9A1","x":3.45,"y":2.14},{"s":"#EFC9A1","x":3.58,"y":2.18},{"s":"#EFC9A1","x":3.7,"y":2.36},{"s":"#EFC9A1","x":3.83,"y":2.35},{"s":"#EFC9A1","x":3.95,"y":2.54},{"s":"#EFC9A1","x":4.08,"y":2.41},
            {"s":"#EFC9A1","x":4.2,"y":2.50},{"s":"#EFC9A1","x":4.33,"y":2.70},{"s":"#EFC9A1","x":4.45,"y":2.69},{"s":"#EFC9A1","x":4.58,"y":2.90},{"s":"#EFC9A1","x":4.7,"y":2.73},{"s":"#EFC9A1","x":4.83,"y":2.95},{"s":"#EFC9A1","x":4.95,"y":3.08},{"s":"#EFC9A1","x":5.08,"y":2.99},
            {"s":"#EFC9A1","x":5.2,"y":3.25},{"s":"#EFC9A1","x":5.33,"y":3.05},{"s":"#EFC9A1","x":5.45,"y":3.28},{"s":"#EFC9A1","x":5.58,"y":3.41},{"s":"#EFC9A1","x":5.7,"y":3.30},{"s":"#EFC9A1","x":5.83,"y":3.32},{"s":"#EFC9A1","x":5.95,"y":3.57},{"s":"#EFC9A1","x":6.08,"y":3.52},
            {"s":"#EFC9A1","x":6.2,"y":3.74},{"s":"#EFC9A1","x":6.33,"y":3.60},{"s":"#EFC9A1","x":6.45,"y":3.62},{"s":"#EFC9A1","x":6.58,"y":3.89},{"s":"#EFC9A1","x":6.7,"y":3.83},{"s":"#EFC9A1","x":6.83,"y":4.10},{"s":"#EFC9A1","x":6.95,"y":3.82},{"s":"#EFC9A1","x":7.08,"y":4.10},
            {"s":"#EFC9A1","x":7.2,"y":4.21},{"s":"#EFC9A1","x":7.33,"y":4.14},{"s":"#EFC9A1","x":7.45,"y":4.43},{"s":"#EFC9A1","x":7.58,"y":4.12},{"s":"#EFC9A1","x":7.7,"y":4.42},{"s":"#EFC9A1","x":7.83,"y":4.58},{"s":"#EFC9A1","x":7.95,"y":4.40},{"s":"#EFC9A1","x":8.08,"y":4.41},
            {"s":"#EFC9A1","x":1.25,"y":1.06},{"s":"#EFC9A1","x":1.37,"y":1.16},{"s":"#EFC9A1","x":1.5,"y":1.18},{"s":"#EFC9A1","x":1.62,"y":1.26},{"s":"#EFC9A1","x":1.75,"y":1.27},{"s":"#EFC9A1","x":1.87,"y":1.39},{"s":"#EFC9A1","x":2.0,"y":1.40},{"s":"#EFC9A1","x":2.12,"y":1.54},
            {"s":"#EFC9A1","x":2.25,"y":1.56},{"s":"#EFC9A1","x":2.37,"y":1.56},{"s":"#EFC9A1","x":2.5,"y":1.72},{"s":"#EFC9A1","x":2.62,"y":1.72},{"s":"#EFC9A1","x":2.75,"y":1.89},{"s":"#EFC9A1","x":2.87,"y":1.80},{"s":"#EFC9A1","x":3.0,"y":2.01},{"s":"#EFC9A1","x":3.12,"y":1.96},
            {"s":"#EFC9A1","x":3.25,"y":2.05},{"s":"#EFC9A1","x":3.37,"y":2.24},{"s":"#EFC9A1","x":3.5,"y":2.11},{"s":"#EFC9A1","x":3.62,"y":2.35},{"s":"#EFC9A1","x":3.75,"y":2.28},{"s":"#EFC9A1","x":3.87,"y":2.41},{"s":"#EFC9A1","x":4.0,"y":2.38},{"s":"#EFC9A1","x":4.12,"y":2.60},
            {"s":"#EFC9A1","x":4.25,"y":2.70},{"s":"#EFC9A1","x":4.37,"y":2.60},{"s":"#EFC9A1","x":4.5,"y":2.75},{"s":"#EFC9A1","x":4.62,"y":2.71},{"s":"#EFC9A1","x":4.75,"y":2.95},{"s":"#EFC9A1","x":4.87,"y":2.90},{"s":"#EFC9A1","x":5.0,"y":3.16},{"s":"#EFC9A1","x":5.12,"y":2.94},
            {"s":"#EFC9A1","x":5.25,"y":3.03},{"s":"#EFC9A1","x":5.37,"y":3.29},{"s":"#EFC9A1","x":5.5,"y":3.22},{"s":"#EFC9A1","x":5.62,"y":3.49},{"s":"#EFC9A1","x":5.75,"y":3.23},{"s":"#EFC9A1","x":5.87,"y":3.58},{"s":"#EFC9A1","x":6.0,"y":3.43},{"s":"#EFC9A1","x":6.12,"y":3.60},
            {"s":"#EFC9A1","x":6.25,"y":3.82},{"s":"#EFC9A1","x":6.37,"y":3.53},{"s":"#EFC9A1","x":6.5,"y":3.91},{"s":"#EFC9A1","x":6.62,"y":3.73},{"s":"#EFC9A1","x":6.75,"y":3.91},{"s":"#EFC9A1","x":6.87,"y":3.81},{"s":"#EFC9A1","x":7.0,"y":4.13},{"s":"#EFC9A1","x":7.12,"y":4.02},
            {"s":"#EFC9A1","x":7.25,"y":4.03},{"s":"#EFC9A1","x":7.37,"y":4.23},{"s":"#EFC9A1","x":7.5,"y":4.11},{"s":"#EFC9A1","x":7.62,"y":4.45},{"s":"#EFC9A1","x":7.75,"y":4.32},{"s":"#EFC9A1","x":7.87,"y":4.67},{"s":"#EFC9A1","x":8.0,"y":4.30},
            {"s":"#EFC9A1","x":2.22,"y":1.60},{"s":"#EFC9A1","x":2.35,"y":1.52},{"s":"#EFC9A1","x":2.47,"y":1.76},{"s":"#EFC9A1","x":2.6,"y":1.63},{"s":"#EFC9A1","x":2.72,"y":1.83},{"s":"#EFC9A1","x":2.85,"y":1.99},{"s":"#EFC9A1","x":2.97,"y":1.90},{"s":"#EFC9A1","x":3.1,"y":1.89},
            {"s":"#EFC9A1","x":3.22,"y":2.20},{"s":"#EFC9A1","x":3.35,"y":2.10},{"s":"#EFC9A1","x":3.47,"y":2.07},{"s":"#EFC9A1","x":3.6,"y":2.36},{"s":"#EFC9A1","x":3.72,"y":2.21},{"s":"#EFC9A1","x":3.85,"y":2.52},{"s":"#EFC9A1","x":3.97,"y":2.30},{"s":"#EFC9A1","x":4.1,"y":2.56},
            {"s":"#EFC9A1","x":4.22,"y":2.73},{"s":"#EFC9A1","x":4.35,"y":2.49},{"s":"#EFC9A1","x":4.47,"y":2.77},{"s":"#EFC9A1","x":4.6,"y":2.98},{"s":"#EFC9A1","x":4.72,"y":2.82},{"s":"#EFC9A1","x":4.85,"y":2.77},{"s":"#EFC9A1","x":4.97,"y":3.14},{"s":"#EFC9A1","x":5.1,"y":2.91},
            {"s":"#EFC9A1","x":5.22,"y":2.95},{"s":"#EFC9A1","x":5.35,"y":3.34},{"s":"#EFC9A1","x":5.47,"y":3.08},{"s":"#EFC9A1","x":5.6,"y":3.51},{"s":"#EFC9A1","x":5.72,"y":3.17},{"s":"#EFC9A1","x":5.85,"y":3.50},{"s":"#EFC9A1","x":5.97,"y":3.75},{"s":"#EFC9A1","x":6.1,"y":3.51},
            {"s":"#EFC9A1","x":6.22,"y":3.69},{"s":"#EFC9A1","x":6.35,"y":3.95},{"s":"#EFC9A1","x":6.47,"y":3.70},{"s":"#EFC9A1","x":6.6,"y":3.59},{"s":"#EFC9A1","x":6.72,"y":4.07},{"s":"#EFC9A1","x":6.85,"y":3.73},{"s":"#EFC9A1","x":6.97,"y":4.24},{"s":"#EFC9A1","x":7.1,"y":3.81},
            {"s":"#EFC9A1","x":7.22,"y":3.91},{"s":"#EFC9A1","x":7.35,"y":4.44},{"s":"#EFC9A1","x":7.47,"y":3.98},{"s":"#EFC9A1","x":7.6,"y":4.39},{"s":"#EFC9A1","x":7.72,"y":4.69},{"s":"#EFC9A1","x":7.85,"y":4.37},{"s":"#EFC9A1","x":7.97,"y":4.23},{"s":"#EFC9A1","x":8.06,"y":4.79},

            {"s":"#79637D","x":0,"y":0.08},{"s":"#79637D","x":0.015,"y":0.13},{"s":"#79637D","x":0.03,"y":0.18},{"s":"#79637D","x":0.05,"y":0.23},{"s":"#79637D","x":0.07,"y":0.28},{"s":"#79637D","x":0.095,"y":0.33},{"s":"#79637D","x":0.12,"y":0.38},{"s":"#79637D","x":0.15,"y":0.43},{"s":"#79637D","x":0.18,"y":0.48},{"s":"#79637D","x":0.215,"y":0.52},{"s":"#79637D","x":0.25,"y":0.56},{"s":"#79637D","x":0.29,"y":0.595},{"s":"#79637D","x":0.33,"y":0.63},{"s":"#79637D","x":0.375,"y":0.665},{"s":"#79637D","x":0.42,"y":0.70},{"s":"#79637D","x":0.47,"y":0.73},{"s":"#79637D","x":0.52,"y":0.76},{"s":"#79637D","x":0.575,"y":0.79},{"s":"#79637D","x":0.63,"y":0.82},{"s":"#79637D","x":0.69,"y":0.85},{"s":"#79637D","x":0.75,"y":0.88},{"s":"#79637D","x":0.815,"y":0.91},{"s":"#79637D","x":0.88,"y":0.94},{"s":"#79637D","x":0.94,"y":0.97},{"s":"#79637D","x":1.0,"y":1.00},
            {"s":"#79637D","x":1.13,"y":1.04},{"s":"#79637D","x":1.26,"y":1.15},{"s":"#79637D","x":1.38,"y":1.20},{"s":"#79637D","x":1.51,"y":1.34},{"s":"#79637D","x":1.63,"y":1.37},{"s":"#79637D","x":1.76,"y":1.39},{"s":"#79637D","x":1.88,"y":1.57},{"s":"#79637D","x":2.01,"y":1.58},
            {"s":"#79637D","x":2.13,"y":1.71},{"s":"#79637D","x":2.26,"y":1.74},{"s":"#79637D","x":2.38,"y":1.98},{"s":"#79637D","x":2.51,"y":1.98},{"s":"#79637D","x":2.63,"y":2.13},{"s":"#79637D","x":2.76,"y":2.10},{"s":"#79637D","x":2.88,"y":2.36},{"s":"#79637D","x":3.01,"y":2.33},
            {"s":"#79637D","x":3.13,"y":2.51},{"s":"#79637D","x":3.26,"y":2.56},{"s":"#79637D","x":3.38,"y":2.75},{"s":"#79637D","x":3.51,"y":2.70},{"s":"#79637D","x":3.63,"y":2.93},{"s":"#79637D","x":3.76,"y":3.04},{"s":"#79637D","x":3.88,"y":3.00},{"s":"#79637D","x":4.01,"y":3.33},
            {"s":"#79637D","x":4.13,"y":3.29},{"s":"#79637D","x":4.26,"y":3.52},{"s":"#79637D","x":4.38,"y":3.42},{"s":"#79637D","x":4.51,"y":3.70},{"s":"#79637D","x":4.63,"y":3.93},{"s":"#79637D","x":4.76,"y":3.86},{"s":"#79637D","x":4.88,"y":4.04},{"s":"#79637D","x":5.01,"y":4.32},
            {"s":"#79637D","x":5.13,"y":4.20},{"s":"#79637D","x":5.26,"y":4.48},{"s":"#79637D","x":5.38,"y":4.44},{"s":"#79637D","x":5.51,"y":4.84},{"s":"#79637D","x":5.63,"y":4.86},{"s":"#79637D","x":5.76,"y":4.94},{"s":"#79637D","x":5.88,"y":5.21},{"s":"#79637D","x":6.01,"y":5.17},
            {"s":"#79637D","x":6.13,"y":5.62},{"s":"#79637D","x":6.26,"y":5.35},{"s":"#79637D","x":6.38,"y":5.78},{"s":"#79637D","x":6.51,"y":5.81},{"s":"#79637D","x":6.63,"y":6.13},{"s":"#79637D","x":6.76,"y":6.01},{"s":"#79637D","x":6.88,"y":6.31},{"s":"#79637D","x":7.01,"y":6.23},
            {"s":"#79637D","x":7.13,"y":6.75},{"s":"#79637D","x":7.26,"y":6.67},{"s":"#79637D","x":7.38,"y":6.99},{"s":"#79637D","x":7.51,"y":6.89},{"s":"#79637D","x":7.63,"y":7.43},{"s":"#79637D","x":7.76,"y":7.25},{"s":"#79637D","x":7.88,"y":7.52},{"s":"#79637D","x":8.01,"y":7.81},{"s":"#79637D","x":7.95,"y":8.02},
            {"s":"#79637D","x":1.17,"y":1.07},{"s":"#79637D","x":1.3,"y":1.18},{"s":"#79637D","x":1.42,"y":1.23},{"s":"#79637D","x":1.55,"y":1.36},{"s":"#79637D","x":1.67,"y":1.35},{"s":"#79637D","x":1.8,"y":1.49},{"s":"#79637D","x":1.92,"y":1.60},{"s":"#79637D","x":2.05,"y":1.60},
            {"s":"#79637D","x":2.17,"y":1.80},{"s":"#79637D","x":2.3,"y":1.76},{"s":"#79637D","x":2.42,"y":1.94},{"s":"#79637D","x":2.55,"y":2.08},{"s":"#79637D","x":2.67,"y":2.08},{"s":"#79637D","x":2.8,"y":2.15},{"s":"#79637D","x":2.92,"y":2.36},{"s":"#79637D","x":3.05,"y":2.39},
            {"s":"#79637D","x":3.17,"y":2.59},{"s":"#79637D","x":3.3,"y":2.57},{"s":"#79637D","x":3.42,"y":2.64},{"s":"#79637D","x":3.55,"y":2.88},{"s":"#79637D","x":3.67,"y":2.90},{"s":"#79637D","x":3.8,"y":3.14},{"s":"#79637D","x":3.92,"y":3.01},{"s":"#79637D","x":4.05,"y":3.26},
            {"s":"#79637D","x":4.17,"y":3.42},{"s":"#79637D","x":4.3,"y":3.45},{"s":"#79637D","x":4.42,"y":3.73},{"s":"#79637D","x":4.55,"y":3.59},{"s":"#79637D","x":4.67,"y":3.88},{"s":"#79637D","x":4.8,"y":4.07},{"s":"#79637D","x":4.92,"y":4.02},{"s":"#79637D","x":5.05,"y":4.11},
            {"s":"#79637D","x":5.17,"y":4.21},{"s":"#79637D","x":5.3,"y":4.53},{"s":"#79637D","x":5.42,"y":4.74},{"s":"#79637D","x":5.55,"y":4.69},{"s":"#79637D","x":5.67,"y":4.79},{"s":"#79637D","x":5.8,"y":5.12},{"s":"#79637D","x":5.92,"y":5.14},{"s":"#79637D","x":6.05,"y":5.48},
            {"s":"#79637D","x":6.17,"y":5.38},{"s":"#79637D","x":6.3,"y":5.48},{"s":"#79637D","x":6.42,"y":5.83},{"s":"#79637D","x":6.55,"y":5.85},{"s":"#79637D","x":6.67,"y":6.21},{"s":"#79637D","x":6.8,"y":6.00},{"s":"#79637D","x":6.92,"y":6.37},{"s":"#79637D","x":7.05,"y":6.60},
            {"s":"#79637D","x":7.17,"y":6.58},{"s":"#79637D","x":7.3,"y":6.97},{"s":"#79637D","x":7.42,"y":6.75},{"s":"#79637D","x":7.55,"y":7.14},{"s":"#79637D","x":7.67,"y":7.40},{"s":"#79637D","x":7.8,"y":7.31},{"s":"#79637D","x":7.92,"y":7.42},{"s":"#79637D","x":8.05,"y":7.82},
            {"s":"#79637D","x":1.22,"y":1.13},{"s":"#79637D","x":1.34,"y":1.18},{"s":"#79637D","x":1.47,"y":1.27},{"s":"#79637D","x":1.59,"y":1.31},{"s":"#79637D","x":1.72,"y":1.45},{"s":"#79637D","x":1.84,"y":1.48},{"s":"#79637D","x":1.97,"y":1.64},{"s":"#79637D","x":2.09,"y":1.59},
            {"s":"#79637D","x":2.22,"y":1.71},{"s":"#79637D","x":2.34,"y":1.91},{"s":"#79637D","x":2.47,"y":1.93},{"s":"#79637D","x":2.59,"y":2.15},{"s":"#79637D","x":2.72,"y":2.06},{"s":"#79637D","x":2.84,"y":2.33},{"s":"#79637D","x":2.97,"y":2.29},{"s":"#79637D","x":3.09,"y":2.46},
            {"s":"#79637D","x":3.22,"y":2.66},{"s":"#79637D","x":3.34,"y":2.54},{"s":"#79637D","x":3.47,"y":2.85},{"s":"#79637D","x":3.59,"y":2.79},{"s":"#79637D","x":3.72,"y":2.98},{"s":"#79637D","x":3.84,"y":2.97},{"s":"#79637D","x":3.97,"y":3.24},{"s":"#79637D","x":4.09,"y":3.23},
            {"s":"#79637D","x":4.22,"y":3.32},{"s":"#79637D","x":4.34,"y":3.54},{"s":"#79637D","x":4.47,"y":3.53},{"s":"#79637D","x":4.59,"y":3.85},{"s":"#79637D","x":4.72,"y":3.84},{"s":"#79637D","x":4.84,"y":4.17},{"s":"#79637D","x":4.97,"y":3.98},{"s":"#79637D","x":5.09,"y":4.38},
            {"s":"#79637D","x":5.22,"y":4.50},{"s":"#79637D","x":5.34,"y":4.49},{"s":"#79637D","x":5.47,"y":4.85},{"s":"#79637D","x":5.59,"y":4.65},{"s":"#79637D","x":5.72,"y":5.09},{"s":"#79637D","x":5.84,"y":4.99},{"s":"#79637D","x":5.97,"y":5.25},{"s":"#79637D","x":6.09,"y":5.23},
            {"s":"#79637D","x":6.22,"y":5.33},{"s":"#79637D","x":6.34,"y":5.80},{"s":"#79637D","x":6.47,"y":5.70},{"s":"#79637D","x":6.59,"y":5.97},{"s":"#79637D","x":6.72,"y":5.94},{"s":"#79637D","x":6.84,"y":6.34},{"s":"#79637D","x":6.97,"y":6.31},{"s":"#79637D","x":7.09,"y":6.73},
            {"s":"#79637D","x":7.22,"y":6.70},{"s":"#79637D","x":7.34,"y":6.67},{"s":"#79637D","x":7.47,"y":7.11},{"s":"#79637D","x":7.59,"y":7.08},{"s":"#79637D","x":7.72,"y":7.52},{"s":"#79637D","x":7.84,"y":7.24},{"s":"#79637D","x":7.97,"y":7.79},
            {"s":"#79637D","x":2.19,"y":1.66},{"s":"#79637D","x":2.32,"y":1.94},{"s":"#79637D","x":2.44,"y":1.83},{"s":"#79637D","x":2.57,"y":2.07},{"s":"#79637D","x":2.69,"y":2.27},{"s":"#79637D","x":2.82,"y":2.20},{"s":"#79637D","x":2.94,"y":2.21},{"s":"#79637D","x":3.07,"y":2.54},
            {"s":"#79637D","x":3.19,"y":2.49},{"s":"#79637D","x":3.32,"y":2.49},{"s":"#79637D","x":3.44,"y":2.85},{"s":"#79637D","x":3.57,"y":2.71},{"s":"#79637D","x":3.69,"y":3.09},{"s":"#79637D","x":3.82,"y":2.87},{"s":"#79637D","x":3.94,"y":3.19},{"s":"#79637D","x":4.07,"y":3.44},
            {"s":"#79637D","x":4.19,"y":3.19},{"s":"#79637D","x":4.32,"y":3.55},{"s":"#79637D","x":4.44,"y":3.83},{"s":"#79637D","x":4.57,"y":3.70},{"s":"#79637D","x":4.69,"y":3.68},{"s":"#79637D","x":4.82,"y":4.15},{"s":"#79637D","x":4.94,"y":3.94},{"s":"#79637D","x":5.07,"y":4.43},
            {"s":"#79637D","x":5.19,"y":4.54},{"s":"#79637D","x":5.32,"y":4.33},{"s":"#79637D","x":5.44,"y":4.86},{"s":"#79637D","x":5.57,"y":4.56},{"s":"#79637D","x":5.69,"y":4.98},{"s":"#79637D","x":5.82,"y":5.32},{"s":"#79637D","x":5.94,"y":5.14},{"s":"#79637D","x":6.07,"y":5.12},
            {"s":"#79637D","x":6.19,"y":5.75},{"s":"#79637D","x":6.32,"y":5.57},{"s":"#79637D","x":6.44,"y":5.54},{"s":"#79637D","x":6.57,"y":6.11},{"s":"#79637D","x":6.69,"y":5.84},{"s":"#79637D","x":6.82,"y":6.45},{"s":"#79637D","x":6.94,"y":6.08},{"s":"#79637D","x":7.07,"y":6.56},
            {"s":"#79637D","x":7.19,"y":6.91},{"s":"#79637D","x":7.32,"y":6.52},{"s":"#79637D","x":7.44,"y":7.03},{"s":"#79637D","x":7.57,"y":7.43},{"s":"#79637D","x":7.69,"y":7.20},{"s":"#79637D","x":7.82,"y":7.16},{"s":"#79637D","x":7.94,"y":7.81},{"s":"#79637D","x":8.07,"y":7.49}
          ]},
          "mark": {"type": "point", "filled": true, "size": 44, "opacity": 1},
          "encoding": {
            "x": {"field": "x", "type": "quantitative", "scale": {"domain": [-0.373, 8.4], "nice": false, "zero": false}, "axis": null},
            "y": {"field": "y", "type": "quantitative", "scale": {"domain": [-0.3, 8.4], "nice": false, "zero": false}, "axis": null},
            "color": {
              "field": "s",
              "type": "nominal",
              "scale": {
                "domain": ["#12183E", "#4A5970", "#932438", "#C85558", "#EFC9A1", "#79637D"],
                "range": ["#12183E", "#4A5970", "#932438", "#C85558", "#EFC9A1", "#79637D"]
              },
              "legend": {
                "title": null,
                "orient": "top-left",
                "offset": 17,
                "padding": 18,
                "fillColor": "white",
                "strokeColor": "#e6e6e6",
                "symbolType": "M-1,-0.13H1V0.13H-1Z M0.41,0A0.41,0.41,0,1,1,-0.41,0A0.41,0.41,0,1,1,0.41,0Z",
                "symbolSize": 1296,
                "symbolStrokeWidth": 0,
                "symbolOpacity": 1,
                "labelFont": "Inter",
                "labelFontSize": 22,
                "labelColor": "#444444",
                "labelOffset": 9,
                "rowPadding": 12.5
              }
            }
          }
        }
      ]
    }
  ]
}
